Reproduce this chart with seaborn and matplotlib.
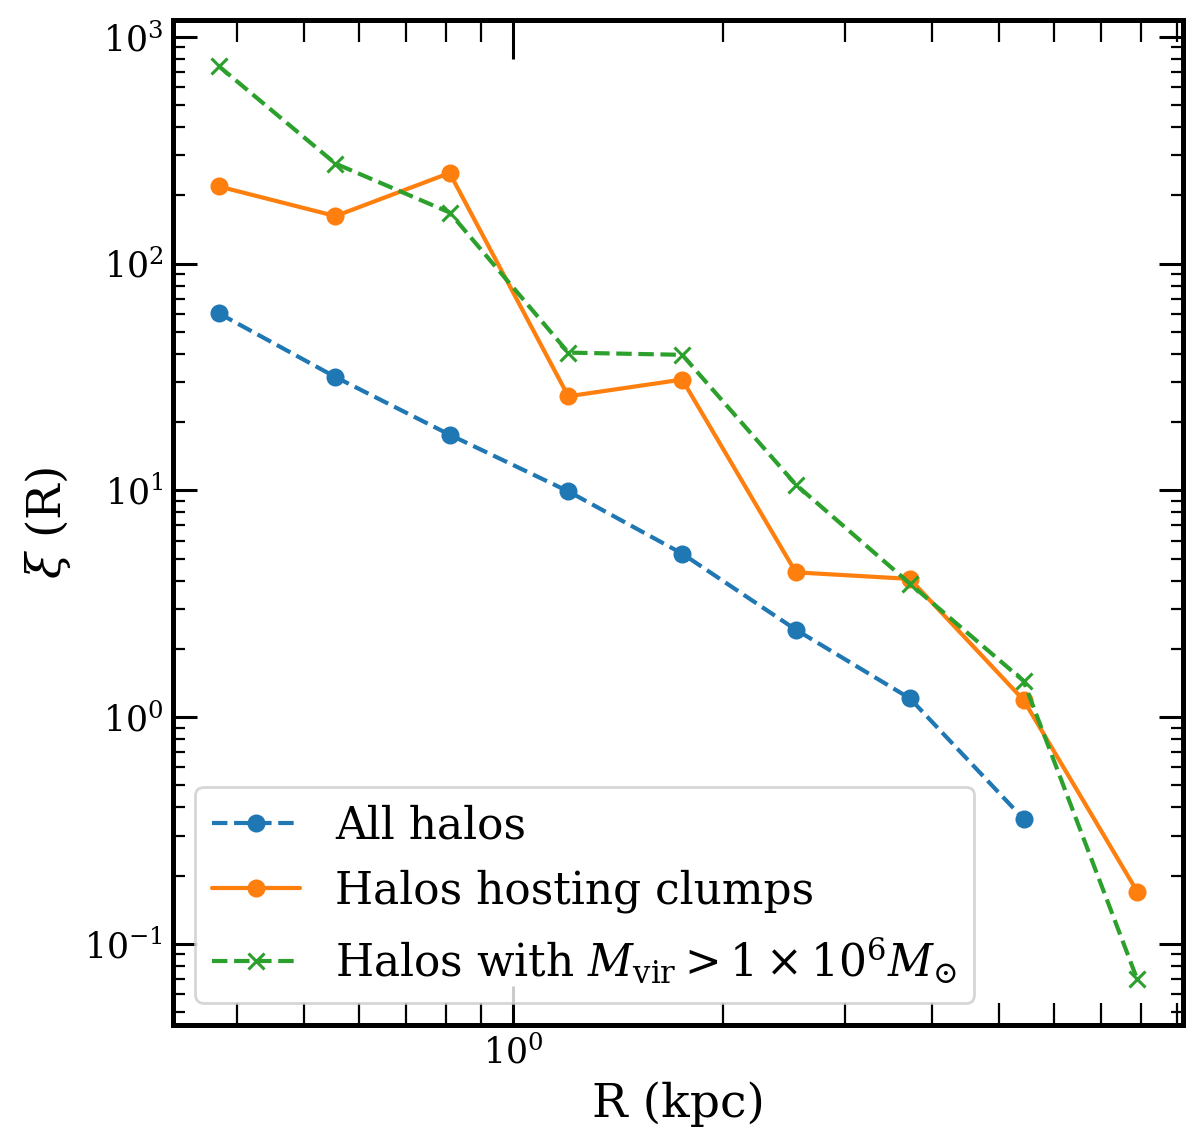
import numpy as np
import pandas as pd
import seaborn as sns
import matplotlib.pyplot as plt
from matplotlib.ticker import LogLocator, NullFormatter

# R (kpc) bin centres and xi(R) for each sample
r_all = [0.377, 0.555, 0.81, 1.2, 1.75, 2.55, 3.72, 5.42]
xi_all = [60.4, 31.6, 17.6, 9.9, 5.26, 2.43, 1.21, 0.356]

r_clump = [0.377, 0.555, 0.81, 1.2, 1.75, 2.55, 3.72, 5.42, 7.9]
xi_clump = [219, 162, 251, 26.0, 30.8, 4.35, 4.07, 1.19, 0.170]

r_big = [0.377, 0.555, 0.81, 1.2, 1.75, 2.55, 3.72, 5.42, 7.9]
xi_big = [743, 276, 168, 40.5, 39.6, 10.6, 3.88, 1.445, 0.0697]

labels = ['All halos', 'Halos hosting clumps',
          r'Halos with $M_{\rm vir} > 1\times10^6 M_{\odot}$']

sns.set_style("ticks")
plt.rcParams['font.family'] = ['DejaVu Serif']
plt.rcParams['mathtext.fontset'] = 'dejavuserif'
plt.rcParams['text.color'] = 'black'
plt.rcParams['axes.labelcolor'] = 'black'

fig, ax = plt.subplots(figsize=(6, 5.67), dpi=200)
fig.subplots_adjust(left=0.144, right=0.986, top=0.982, bottom=0.096)

sns.lineplot(x=r_all, y=xi_all, ax=ax, color='#1f77b4', linestyle='--',
             marker='o', markersize=6.5, markeredgewidth=0, linewidth=1.5,
             label=labels[0])
sns.lineplot(x=r_clump, y=xi_clump, ax=ax, color='#ff7f0e', linestyle='-',
             marker='o', markersize=6.5, markeredgewidth=0, linewidth=1.5,
             label=labels[1])
sns.lineplot(x=r_big, y=xi_big, ax=ax, color='#2ca02c', linestyle='--',
             marker='x', markersize=6, markeredgewidth=1.1,
             markeredgecolor='#2ca02c', linewidth=1.5,
             label=labels[2])

ax.set_xscale('log')
ax.set_yscale('log')
ax.margins(x=0.05, y=0.05)

ax.xaxis.set_minor_locator(LogLocator(base=10, subs=np.arange(2, 10)))
ax.xaxis.set_minor_formatter(NullFormatter())
ax.yaxis.set_minor_locator(LogLocator(base=10, subs=np.arange(2, 10)))
ax.yaxis.set_minor_formatter(NullFormatter())

ax.tick_params(axis='both', which='both', direction='in', top=True, right=True,
               labelsize=12.5, colors='black')
ax.tick_params(axis='x', which='major', length=14, width=1.1)
ax.tick_params(axis='x', which='minor', length=8, width=0.8)
ax.tick_params(axis='y', which='major', length=8.6, width=1.1)
ax.tick_params(axis='y', which='minor', length=4.3, width=0.8)

for s in ax.spines.values():
    s.set_linewidth(1.8)
    s.set_color('black')

ax.set_xlabel('R (kpc)', fontsize=17)
ax.set_ylabel(r'$\xi$ (R)', fontsize=17)

ax.legend(loc='lower left', fontsize=15.8)

fig.savefig('out.png', dpi=200)
